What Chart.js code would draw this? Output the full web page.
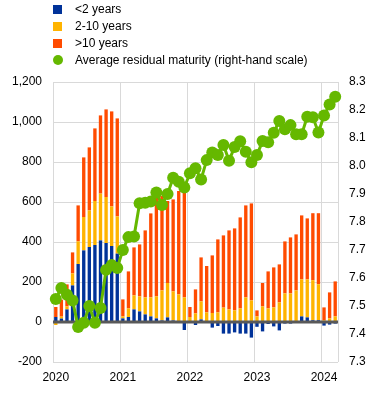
<!DOCTYPE html>
<html>
<head>
<meta charset="utf-8">
<script src="https://cdn.jsdelivr.net/npm/chart.js@4.4.1/dist/chart.umd.min.js"></script>
<style>
  body { margin: 0; background: #fff; font-family: Arial, "Liberation Sans", sans-serif; }
  #wrap { position: relative; width: 371px; height: 406px; }
  #chart { position: absolute; left: 0; top: 0; }
  #legend { position: absolute; left: 53px; top: 1px; font-size: 12px; color: #000; }
  .item { position: relative; height: 17px; line-height: 17px; padding-left: 22px; white-space: nowrap; }
  .swatch { position: absolute; left: 0; top: 4px; width: 9px; height: 9px; }
  .dot { left: 0; top: 3px; width: 10px; height: 10px; border-radius: 50%; }
</style>
</head>
<body>
<div id="wrap">
  <canvas id="chart" width="371" height="406"></canvas>
  <div id="legend"></div>
</div>
<script>
// Monthly, Jan 2020 - Mar 2024
const months = [
    '2020-01', '2020-02', '2020-03', '2020-04', '2020-05', '2020-06', '2020-07', '2020-08', '2020-09', '2020-10', '2020-11', '2020-12',
    '2021-01', '2021-02', '2021-03', '2021-04', '2021-05', '2021-06', '2021-07', '2021-08', '2021-09', '2021-10', '2021-11', '2021-12',
    '2022-01', '2022-02', '2022-03', '2022-04', '2022-05', '2022-06', '2022-07', '2022-08', '2022-09', '2022-10', '2022-11', '2022-12',
    '2023-01', '2023-02', '2023-03', '2023-04', '2023-05', '2023-06', '2023-07', '2023-08', '2023-09', '2023-10', '2023-11', '2023-12',
    '2024-01', '2024-02', '2024-03'
];

// Left-hand scale
const under2 = [
    25, 17, 63, 183, 290, 358, 375, 385, 408, 395, 380, 342,
    18, 25, 63, 53, 38, 28, 18, 8, 23, 8, 3, -40,
    0, -15, 13, 0, -28, -20, -58, -58, -52, -58, -58, -78,
    -24, -47, -10, -22, -42, -8, -8, 0, 28, 23, 9, 9,
    -18, -13, -8
];
const from2to10 = [
    -15, 10, 15, 60, 113, 167, 183, 220, 234, 230, 198, 186,
    10, 43, 70, 75, 85, 95, 110, 150, 172, 145, 135, 123,
    25, 43, 90, 48, 45, 48, 72, 63, 58, 68, 123, 108,
    28, 78, 68, 73, 98, 143, 143, 158, 185, 190, 200, 180,
    8, 18, 28
];
const over10 = [
    50, 85, 110, 105, 180, 298, 315, 363, 391, 438, 475, 490,
    85, 185, 240, 260, 335, 420, 494, 472, 410, 460, 517, 532,
    50, 120, 220, 232, 288, 365, 361, 395, 410, 455, 460, 485,
    30, 117, 185, 200, 190, 260, 280, 280, 320, 305, 335, 355,
    65, 130, 175
];

// Right-hand scale
const avgMaturity = [
    7.525, 7.564, 7.54, 7.52, 7.425, 7.44, 7.50, 7.44, 7.493, 7.629, 7.646, 7.636,
    7.70, 7.746, 7.748, 7.867, 7.869, 7.873, 7.905, 7.861, 7.90, 7.958, 7.944, 7.923,
    7.974, 7.992, 7.952, 8.021, 8.048, 8.039, 8.075, 8.019, 8.068, 8.088, 8.051, 8.013,
    8.039, 8.089, 8.085, 8.119, 8.161, 8.131, 8.146, 8.113, 8.113, 8.176, 8.174, 8.12,
    8.18, 8.22, 8.247
];

const COLORS = { blue: '#003299', yellow: '#FFB400', orange: '#FF4B00', green: '#65B800' };
const GRID = '#d9d9d9';

// HTML legend, one item per row
const legendItems = [
    { text: '<2 years', color: COLORS.blue, dot: false },
    { text: '2-10 years', color: COLORS.yellow, dot: false },
    { text: '>10 years', color: COLORS.orange, dot: false },
    { text: 'Average residual maturity (right-hand scale)', color: COLORS.green, dot: true }
];
const legendEl = document.getElementById('legend');
legendItems.forEach(item => {
    const row = document.createElement('div');
    row.className = 'item';
    const sw = document.createElement('span');
    sw.className = item.dot ? 'swatch dot' : 'swatch';
    sw.style.background = item.color;
    row.appendChild(sw);
    row.appendChild(document.createTextNode(item.text));
    legendEl.appendChild(row);
});

// Dark zero line, drawn over the bars but under the green line
const zeroLine = {
    id: 'zeroLine',
    afterDatasetDraw(chart, args) {
        if (args.index !== 0) return;
        const y = chart.scales.y.getPixelForValue(0);
        const { left, right } = chart.chartArea;
        const ctx = chart.ctx;
        ctx.save();
        ctx.strokeStyle = '#595959';
        ctx.lineWidth = 3;
        ctx.beginPath();
        ctx.moveTo(left, y);
        ctx.lineTo(right, y);
        ctx.stroke();
        ctx.restore();
    }
};

Chart.defaults.font.family = 'Arial, "Liberation Sans", sans-serif';
Chart.defaults.font.size = 12;
Chart.defaults.color = '#000';

new Chart(document.getElementById('chart'), {
    type: 'bar',
    data: {
        labels: months,
        datasets: [
            { label: '<2 years', data: under2, backgroundColor: COLORS.blue, order: 1 },
            { label: '2-10 years', data: from2to10, backgroundColor: COLORS.yellow, order: 1 },
            { label: '>10 years', data: over10, backgroundColor: COLORS.orange, order: 1 },
            {
                type: 'line', label: 'Average residual maturity (right-hand scale)', data: avgMaturity,
                yAxisID: 'y2', order: 0, tension: 0,
                borderColor: COLORS.green, backgroundColor: COLORS.green, borderWidth: 3,
                pointRadius: 6, pointHoverRadius: 6, pointBorderWidth: 0
            }
        ]
    },
    options: {
        responsive: false,
        animation: false,
        devicePixelRatio: 1,
        layout: { padding: { top: 82, left: 0, right: 0, bottom: 0 } },
        datasets: { bar: { barPercentage: 0.6, categoryPercentage: 1 } },
        plugins: { legend: { display: false }, tooltip: { enabled: false } },
        scales: {
            x: {
                stacked: true,
                offset: true,
                grid: {
                    offset: true,
                    drawTicks: false,
                    color: ctx => (ctx.index === undefined || ctx.index % 12 === 0) ? GRID : 'rgba(0,0,0,0)'
                },
                border: { display: false },
                ticks: {
                    autoSkip: false, maxRotation: 0, padding: 8,
                    callback: (val, i) => months[i].endsWith('-01') ? months[i].slice(0, 4) : ''
                },
                afterFit: s => { s.height = 44; }
            },
            y: {
                stacked: true,
                position: 'left',
                min: -200, max: 1200,
                ticks: { stepSize: 200, padding: 11, callback: v => v.toLocaleString('en-US') },
                grid: { drawTicks: false, color: ctx => ctx.tick && ctx.tick.value === 0 ? 'rgba(0,0,0,0)' : GRID },
                border: { display: false },
                afterFit: s => { s.width = 53; }
            },
            y2: {
                position: 'right',
                min: 7.3, max: 8.3,
                ticks: { stepSize: 0.1, padding: 11, callback: v => v.toFixed(1) },
                grid: { display: false, drawTicks: false },
                border: { display: false },
                afterFit: s => { s.width = 33; }
            }
        }
    },
    plugins: [zeroLine]
});
</script>
</body>
</html>
